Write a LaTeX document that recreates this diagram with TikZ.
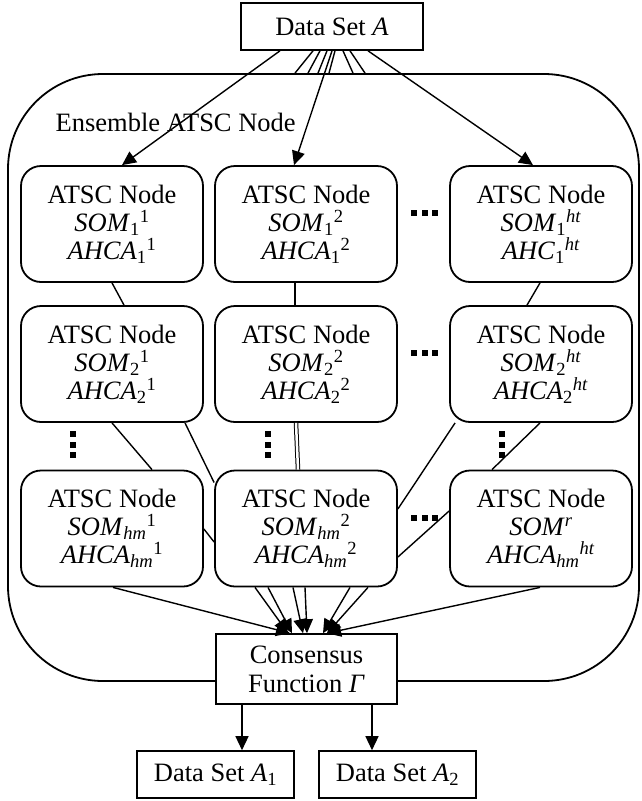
\documentclass[tikz,border=0pt]{standalone}
\usepackage{fontspec}
\setmainfont{Liberation Serif}
\usetikzlibrary{arrows.meta}
\newcommand{\sbsp}[2]{\textsubscript{#1}\textsuperscript{#2}}
\lineskiplimit=-100pt

\begin{document}
\begin{tikzpicture}[x=1pt, y=-1pt, node distance={194pt}, line width=1.4pt,
  >={Triangle[length=14pt,width=13pt]},
  main/.style = {draw, rounded corners=20pt, minimum width=182pt, minimum height=116pt, align=center, font=\fontsize{26.5}{28}\selectfont, line width=1.8pt},
  data/.style = {draw, fill=white, minimum height=47pt, inner sep=0pt, font=\fontsize{26.5}{29}\selectfont, line width=1.6pt}]
\useasboundingbox (0,0) rectangle (641,801);

\node[draw, rounded corners=95pt, minimum width=631pt, minimum height=607pt, line width=1.8pt] (ens) at (323.5,377.5) {};
\node[anchor=west, inner sep=0pt, font=\fontsize{26.5}{28}\selectfont] (lbl) at (55,122) {Ensemble ATSC Node};

\node[data, minimum width=182pt] (A) at (332,26.5) {Data Set \textit{A}};

\node[main] (11) at (112,224) {ATSC Node\\\textit{SOM}\sbsp{1}{1}\\\textit{AHCA}\sbsp{1}{1}};
\node[main] (12) [right of=11] {ATSC Node\\\textit{SOM}\sbsp{1}{2}\\\textit{AHCA}\sbsp{1}{2}};
\node[main] (13) [right of=12, xshift=41pt] {ATSC Node\\\textit{SOM}\sbsp{1}{\textit{ht}}\\\textit{AHC}\sbsp{1}{\textit{ht}}};
\node[main] (21) [below of=11, node distance=140pt] {ATSC Node\\\textit{SOM}\sbsp{2}{1}\\\textit{AHCA}\sbsp{2}{1}};
\node[main] (22) [right of=21] {ATSC Node\\\textit{SOM}\sbsp{2}{2}\\\textit{AHCA}\sbsp{2}{2}};
\node[main] (23) [right of=22, xshift=41pt] {ATSC Node\\\textit{SOM}\sbsp{2}{\textit{ht}}\\\textit{AHCA}\sbsp{2}{\textit{ht}}};
\node[main] (31) [below of=21, node distance=164.5pt] {ATSC Node\\\textit{SOM}\sbsp{\textit{hm}}{1}\\\textit{AHCA}\sbsp{\textit{hm}}{1}};
\node[main] (32) [right of=31] {ATSC Node\\\textit{SOM}\sbsp{\textit{hm}}{2}\\\textit{AHCA}\sbsp{\textit{hm}}{2}};
\node[main] (33) [right of=32, xshift=41pt] {ATSC Node\\\textit{SOM}\textsuperscript{\textit{r}}\\\textit{AHCA}\sbsp{\textit{hm}}{\textit{ht}}};

\node[data, minimum width=181pt, minimum height=70pt, align=center] (cons) at (306.5,669) {Consensus\\Function \textit{Γ}};
\node[data, minimum width=157pt] (A1) at (215.5,774.5) {Data Set \textit{A}\textsubscript{1}};
\node[data, minimum width=157pt] (A2) [right of=A1, node distance=182pt] {Data Set \textit{A}\textsubscript{2}};

% from the data set
\draw[->] ([xshift=-52pt]A.south) -- ([xshift=10pt]11.north);
\draw[->] (A.south) -- ([xshift=-12pt]12.north);
\draw[->] ([xshift=36pt]A.south) -- ([xshift=-8pt]13.north);
\foreach \a/\b in {-19/-28.5, -12/-15.5, -5/-5.5, 3/5.5, 11/29.5, 18/41.5}
  \draw ([xshift=\a pt]A.south) -- ([xshift=\b pt]ens.north);

% down the columns
\draw (11.south) -- ([xshift=12pt]21.north);
\draw ([xshift=-11pt]12.south) -- ([xshift=-11pt]22.north);
\draw ([xshift=-1pt]13.south) -- ([xshift=-14pt]23.north);
\draw (21.south) -- ([xshift=40pt]31.north);
\draw ([xshift=73pt]21.south) -- ([yshift=46pt]32.west);
\draw ([yshift=-0.5pt]31.east) -- ([yshift=-13.5pt]32.west);
\draw[double, double distance=2.5pt, line width=1pt] ([xshift=-10pt]22.south) -- ([xshift=-8pt]32.north);
\draw ([xshift=6pt]23.south west) -- ([yshift=19.5pt]32.east);
\draw ([xshift=-1pt]23.south) -- ([xshift=-49pt]33.north);
\draw ([yshift=-28.5pt]32.east) -- ([yshift=17.5pt]33.west);

% into the consensus function
\draw[->] ([xshift=1pt]31.south) -- ([xshift=-16.5pt]cons.north);
\foreach \a/\b in {-51/-18.5, -38/-14.5, -13/-3.5, -1/0.5, 44/16.5, 62/20.5}
  \draw[->] ([xshift=\a pt]32.south) -- ([xshift=\b pt]cons.north);
\draw[->] ([xshift=-1pt]33.south) -- ([xshift=20.5pt]cons.north);

% outputs
\draw[->] ([xshift=-64.5pt]cons.south) -- ([xshift=26.5pt]A1.north);
\draw[->] ([xshift=65.5pt]cons.south) -- ([xshift=-25.5pt]A2.north);

% dots
\foreach \y in {213,353,518}
  \foreach \x in {414,424.5,435}
    \fill (\x-3,\y-3) rectangle +(6,6);
\foreach \x in {73,268,502}
  \foreach \y in {434,444.5,455}
    \fill (\x-3,\y-3) rectangle +(6,6);
\end{tikzpicture}
\end{document}
